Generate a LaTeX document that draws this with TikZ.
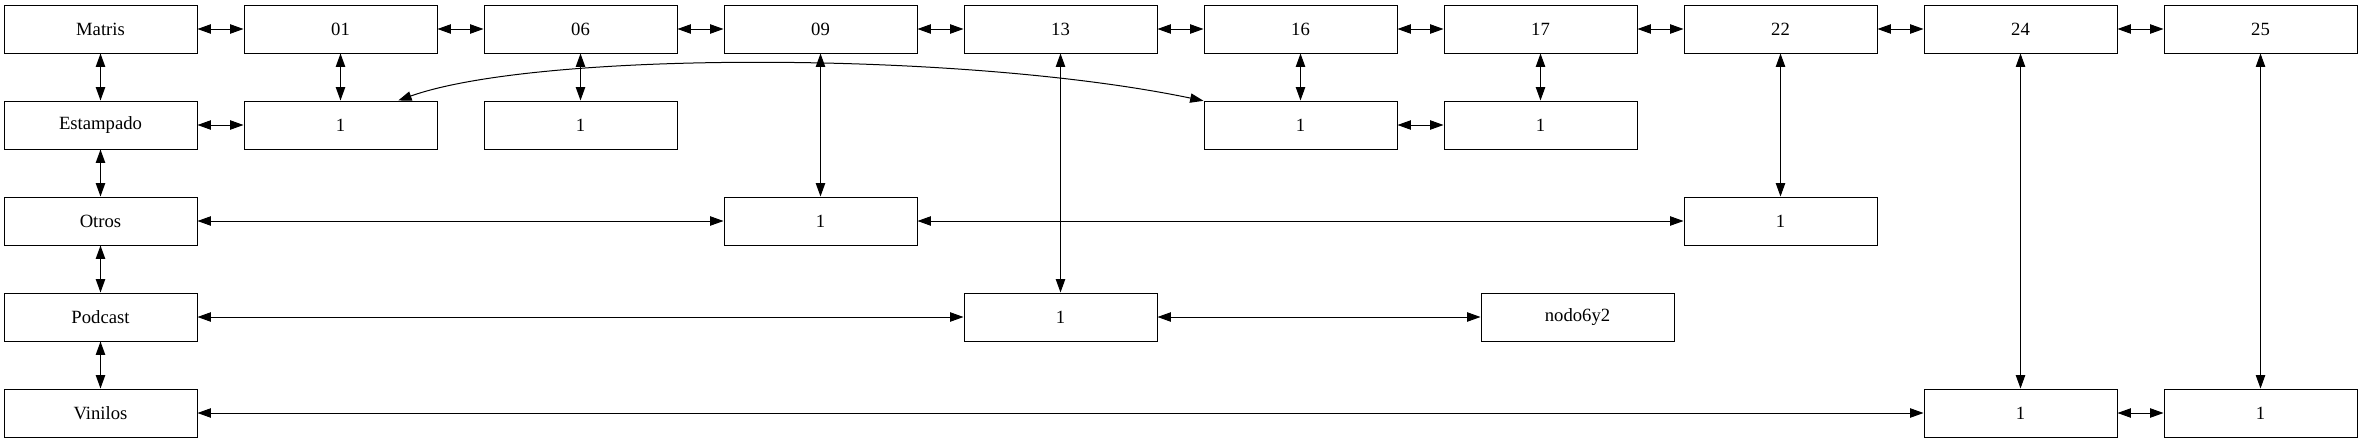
\documentclass[tikz,border=0pt]{standalone}
\usepackage{fontspec}
\setmainfont{Liberation Serif}
\usetikzlibrary{
    arrows.meta,
    positioning
}
\tikzset{
    % Boxes
    cell/.style={draw, line width=0.75pt, rectangle, inner sep=0pt,
        minimum width=144.75pt, minimum height=36pt,
        font=\fontsize{14pt}{16pt}\selectfont},
    %
    % Arrows
    arrow tip/.tip={Triangle[length=10pt,width=7pt]},
    link/.style={<->,>={arrow tip}, line width=0.75pt}
}

\begin{document}
\begin{tikzpicture}[x=0.75pt,y=-0.75pt]
        \useasboundingbox (0,0) rectangle (2363,443);

        % top row
        \foreach \name/\txt [count=\i from 0] in {matris/Matris,n01/01,n06/06,n09/09,n13/13,n16/16,n17/17,n22/22,n24/24,n25/25}{
            \node[cell] (\name) at (100.5+240*\i,29) {\txt};
        }
        % left column
        \node[cell] (estampado) at (100.5,125) {Estampado};
        \node[cell] (otros) at (100.5,221) {Otros};
        \node[cell] (podcast) at (100.5,317) {Podcast};
        \node[cell] (vinilos) at (100.5,413) {Vinilos};

        % inner cells
        \node[cell] (e01) at (340.5,125) {1};
        \node[cell] (e06) at (580.5,125) {1};
        \node[cell] (e16) at (1300.5,125) {1};
        \node[cell] (e17) at (1540.5,125) {1};
        \node[cell] (o09) at (820.5,221) {1};
        \node[cell] (o22) at (1780.5,221) {1};
        \node[cell] (p13) at (1060.5,317) {1};
        \node[cell] (p6y2) at (1577.5,317) {nodo6y2};
        \node[cell] (v24) at (2020.5,413) {1};
        \node[cell] (v25) at (2260.5,413) {1};

        \foreach \a/\b in {matris/n01,n01/n06,n06/n09,n09/n13,n13/n16,n16/n17,n17/n22,n22/n24,n24/n25,
                matris/estampado,estampado/otros,otros/podcast,podcast/vinilos,
                estampado/e01,n01/e01,n06/e06,n16/e16,n17/e17,e16/e17,
                otros/o09,n09/o09,o09/o22,n22/o22,
                podcast/p13,n13/p13,p13/p6y2,
                vinilos/v24,n24/v24,v24/v25,n25/v25}{
            \draw[link] (\a) -- (\b);
        }

        \draw[link] (e01.23) .. controls +(140,-50) and +(-240,-50) .. (e16.166);
    \end{tikzpicture}
\end{document}
